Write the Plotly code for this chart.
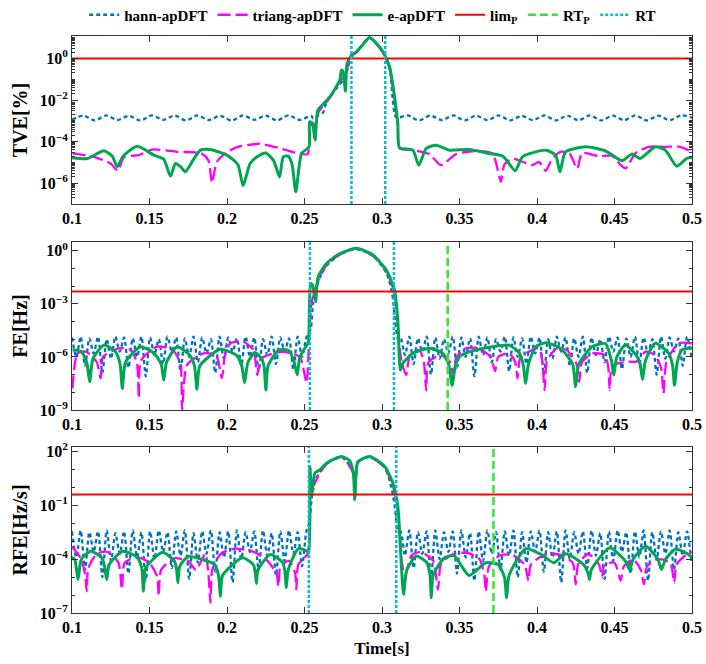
import numpy as np
import plotly.graph_objects as go
from plotly.subplots import make_subplots

# ---------------- data (log10 units) ----------------
t_start, t_end = 0.1, 0.5

# TVE panel ---------------------------------------------------------------
tve_e_t = [0.1000, 0.1100, 0.1206, 0.1260, 0.1292, 0.1330, 0.1421, 0.1528, 0.1592, 0.1635,
           0.1667, 0.1700, 0.1731, 0.1780, 0.1828, 0.1892, 0.1999, 0.2070, 0.2104, 0.2149,
           0.2200, 0.2250, 0.2300, 0.2339, 0.2363, 0.2395, 0.2420, 0.2444, 0.2481, 0.2529,
           0.2533, 0.2550, 0.2568, 0.2586, 0.2620, 0.2663, 0.2728, 0.2738, 0.2749, 0.2764,
           0.2775, 0.2803, 0.2835, 0.2880, 0.2920, 0.2960, 0.3006, 0.3049, 0.3081, 0.3102,
           0.3113, 0.3199, 0.3237, 0.3285, 0.3349, 0.3434, 0.3563, 0.3692, 0.3780, 0.3859,
           0.3906, 0.4056, 0.4120, 0.4148, 0.4184, 0.4313, 0.4442, 0.4548, 0.4613, 0.4666,
           0.4763, 0.4827, 0.4902, 0.4966, 0.5000]
tve_e_lg = [-4.77, -4.81, -4.44, -4.70, -5.21, -4.70, -4.22, -4.65, -4.85, -5.66,
            -5.05, -5.20, -5.45, -4.90, -4.41, -4.38, -4.65, -5.10, -6.12, -5.05,
            -4.70, -4.55, -4.90, -5.70, -4.73, -4.70, -5.10, -6.41, -4.57, -4.25,
            -3.05, -3.10, -3.93, -2.49, -2.20, -1.85, -1.04, -0.56, -0.64, -1.57,
            -0.24, 0.16, 0.32, 0.70, 1.01, 0.75, 0.32, -0.40, -1.85, -3.13,
            -4.30, -4.41, -5.13, -4.33, -4.17, -4.41, -4.38, -4.57, -4.70, -5.40,
            -4.73, -4.41, -4.65, -5.45, -4.49, -4.25, -4.45, -4.92, -4.60, -4.81,
            -4.25, -4.40, -5.18, -4.81, -4.75]

tve_tri_t = [0.1003, 0.1142, 0.1249, 0.1296, 0.1335, 0.1431, 0.1517, 0.1678, 0.1830, 0.1880,
             0.1903, 0.1935, 0.2000, 0.2085, 0.2150, 0.2213, 0.2331, 0.2450, 0.2520, 0.2540,
             0.2560, 0.2590, 0.2663, 0.2728, 0.2760, 0.2803, 0.2835, 0.2920, 0.3006, 0.3049,
             0.3081, 0.3102, 0.3113, 0.3200, 0.3306, 0.3381, 0.3478, 0.3600, 0.3713, 0.3767,
             0.3790, 0.3841, 0.3900, 0.3970, 0.4013, 0.4056, 0.4099, 0.4152, 0.4210, 0.4259,
             0.4291, 0.4399, 0.4480, 0.4570, 0.4634, 0.4720, 0.4827, 0.4924, 0.5000]
tve_tri_lg = [-4.57, -4.73, -5.05, -5.40, -4.75, -4.65, -4.38, -4.49, -4.55, -4.90,
              -5.98, -4.97, -4.50, -4.22, -4.15, -4.10, -4.30, -4.55, -4.60, -3.10,
              -3.30, -2.60, -1.90, -1.10, -0.80, 0.10, 0.30, 1.00, 0.30, -0.45,
              -1.90, -3.20, -4.33, -4.41, -4.60, -5.13, -4.60, -4.45, -4.57, -5.93,
              -5.10, -4.81, -4.95, -5.13, -4.97, -5.40, -4.81, -4.49, -4.57, -5.30,
              -4.55, -4.70, -4.68, -5.29, -4.57, -4.25, -4.25, -4.25, -4.50]

tve_hann_t = [0.1000, 0.1074, 0.1147, 0.1221, 0.1294, 0.1368, 0.1441, 0.1515, 0.1588, 0.1662,
              0.1735, 0.1809, 0.1882, 0.1956, 0.2029, 0.2103, 0.2176, 0.2250, 0.2323, 0.2397,
              0.2470, 0.2544,
              0.2556, 0.2586, 0.2620, 0.2642, 0.2700, 0.2760, 0.2803, 0.2835, 0.2920, 0.3006,
              0.3049, 0.3070, 0.3092,
              0.3166, 0.3239, 0.3313, 0.3386, 0.3460, 0.3533, 0.3607, 0.3680, 0.3754, 0.3827,
              0.3901, 0.3974, 0.4048, 0.4121, 0.4195, 0.4268, 0.4342, 0.4415, 0.4489, 0.4562,
              0.4636, 0.4709, 0.4783, 0.4856, 0.4930, 0.5000]
tve_hann_lg = [-2.95, -2.75, -2.98, -2.74, -2.96, -2.76, -2.99, -2.74, -2.95, -2.75,
               -2.98, -2.74, -2.96, -2.76, -2.99, -2.74, -2.95, -2.75, -2.98, -2.74,
               -2.96, -2.76,
               -2.89, -2.75, -2.60, -2.09, -1.50, -0.90, 0.05, 0.28, 0.98, 0.28,
               -0.50, -2.00, -2.84,
               -2.74, -2.98, -2.75, -2.97, -2.74, -2.98, -2.75, -2.97, -2.74, -2.98,
               -2.76, -2.97, -2.74, -2.98, -2.75, -2.97, -2.74, -2.98, -2.75, -2.97,
               -2.74, -2.98, -2.75, -2.97, -2.74, -2.85]

# FE panel ----------------------------------------------------------------
fe_e_t = [0.1003, 0.1060, 0.1095, 0.1114, 0.1135, 0.1206, 0.1280, 0.1310, 0.1325, 0.1345,
          0.1442, 0.1530, 0.1575, 0.1592, 0.1610, 0.1678, 0.1760, 0.1790, 0.1806, 0.1825,
          0.1956, 0.2060, 0.2095, 0.2113, 0.2135, 0.2180, 0.2225, 0.2240, 0.2251, 0.2265,
          0.2335, 0.2400, 0.2430, 0.2453, 0.2470, 0.2510, 0.2524, 0.2539, 0.2552, 0.2571,
          0.2588, 0.2642, 0.2728, 0.2835, 0.2942, 0.3028, 0.3081, 0.3102, 0.3118, 0.3134,
          0.3199, 0.3306, 0.3392, 0.3430, 0.3452, 0.3475, 0.3499, 0.3563, 0.3713, 0.3820,
          0.3884, 0.3910, 0.3927, 0.3945, 0.3992, 0.4056, 0.4150, 0.4230, 0.4249, 0.4270,
          0.4356, 0.4442, 0.4480, 0.4495, 0.4515, 0.4570, 0.4640, 0.4665, 0.4681, 0.4700,
          0.4763, 0.4850, 0.4875, 0.4887, 0.4905, 0.4934, 0.5000]
fe_e_lg = [-5.61, -5.70, -6.30, -7.40, -6.10, -5.33, -5.70, -6.40, -7.78, -6.30,
           -5.42, -5.80, -6.40, -7.31, -6.30, -5.42, -5.90, -6.50, -7.83, -6.50,
           -5.57, -5.90, -6.50, -7.46, -6.30, -5.75, -6.10, -6.60, -7.87, -6.50,
           -5.60, -5.65, -6.20, -7.00, -6.00, -5.40, -5.23, -1.84, -1.95, -2.88,
           -1.47, -0.71, -0.15, 0.14, -0.24, -1.09, -2.22, -3.92, -6.74, -6.36,
           -5.80, -5.51, -5.80, -6.40, -7.60, -6.40, -5.99, -5.71, -5.42, -5.33,
           -5.75, -6.40, -7.49, -6.40, -5.42, -5.20, -5.50, -6.40, -7.68, -6.40,
           -5.42, -5.25, -6.20, -7.02, -6.00, -5.33, -5.90, -6.40, -7.27, -6.20,
           -5.23, -5.80, -6.50, -7.59, -6.30, -5.61, -5.50]

fe_tri_t = [0.1003, 0.1035, 0.1090, 0.1160, 0.1185, 0.1200, 0.1303, 0.1380, 0.1420, 0.1431,
            0.1445, 0.1549, 0.1650, 0.1700, 0.1710, 0.1742, 0.1849, 0.1930, 0.1967, 0.1985,
            0.2021, 0.2106, 0.2170, 0.2196, 0.2220, 0.2300, 0.2363, 0.2470, 0.2513, 0.2530,
            0.2546, 0.2588, 0.2642, 0.2728, 0.2835, 0.2942, 0.3028, 0.3081, 0.3102, 0.3125,
            0.3156, 0.3180, 0.3242, 0.3270, 0.3285, 0.3300, 0.3380, 0.3440, 0.3460, 0.3480,
            0.3542, 0.3620, 0.3700, 0.3730, 0.3750, 0.3820, 0.3860, 0.3874, 0.3895, 0.4013,
            0.4035, 0.4049, 0.4065, 0.4130, 0.4190, 0.4255, 0.4272, 0.4290, 0.4360, 0.4440,
            0.4460, 0.4469, 0.4485, 0.4591, 0.4640, 0.4700, 0.4760, 0.4800, 0.4816, 0.4835,
            0.4912, 0.5000]
fe_tri_lg = [-7.78, -5.80, -5.70, -6.30, -7.21, -6.00, -5.51, -5.60, -6.40, -8.34,
             -6.20, -5.42, -5.60, -6.40, -9.00, -6.46, -5.80, -5.90, -7.20, -6.00,
             -5.23, -5.14, -5.60, -7.02, -6.10, -5.80, -5.71, -6.00, -7.46, -5.00,
             -2.88, -1.70, -0.80, -0.20, 0.12, -0.28, -1.15, -2.40, -4.20, -6.20,
             -7.02, -5.90, -5.61, -6.30, -7.91, -6.30, -5.90, -6.30, -7.00, -6.00,
             -5.51, -5.50, -6.00, -6.80, -6.00, -5.80, -6.30, -7.21, -6.00, -5.51,
             -6.30, -7.87, -6.20, -5.51, -5.60, -6.40, -7.40, -6.30, -5.80, -5.90,
             -6.60, -7.87, -6.50, -6.27, -6.27, -5.70, -5.90, -6.60, -8.06, -6.30,
             -5.23, -5.23]

# shared sample times of the fast hann ripple (before / after the step)
hann_t_pre = [0.1000, 0.1028, 0.1056, 0.1084, 0.1112, 0.1140, 0.1168, 0.1196, 0.1224, 0.1252,
              0.1280, 0.1308, 0.1336, 0.1364, 0.1392, 0.1420, 0.1448, 0.1476, 0.1504, 0.1532,
              0.1560, 0.1588, 0.1616, 0.1644, 0.1672, 0.1700, 0.1728, 0.1756, 0.1784, 0.1812,
              0.1840, 0.1868, 0.1896, 0.1924, 0.1952, 0.1980, 0.2008, 0.2036, 0.2064, 0.2092,
              0.2120, 0.2148, 0.2176, 0.2204, 0.2232, 0.2260, 0.2288, 0.2316, 0.2344, 0.2372,
              0.2400, 0.2428, 0.2456, 0.2484, 0.2512]
hann_t_post = [0.3120, 0.3148, 0.3176, 0.3204, 0.3232, 0.3260, 0.3288, 0.3316, 0.3344, 0.3372,
               0.3400, 0.3428, 0.3456, 0.3484, 0.3512, 0.3540, 0.3568, 0.3596, 0.3624, 0.3652,
               0.3680, 0.3708, 0.3736, 0.3764, 0.3792, 0.3820, 0.3848, 0.3876, 0.3904, 0.3932,
               0.3960, 0.3988, 0.4016, 0.4044, 0.4072, 0.4100, 0.4128, 0.4156, 0.4184, 0.4212,
               0.4240, 0.4268, 0.4296, 0.4324, 0.4352, 0.4380, 0.4408, 0.4436, 0.4464, 0.4492,
               0.4520, 0.4548, 0.4576, 0.4604, 0.4632, 0.4660, 0.4688, 0.4716, 0.4744, 0.4772,
               0.4800, 0.4828, 0.4856, 0.4884, 0.4912, 0.4940, 0.4968, 0.4996]

fe_hann_pre_lg = [-4.90, -6.0, -4.85, -6.5, -4.95, -5.8, -4.85, -6.9, -5.00, -6.1,
                  -4.85, -5.7, -4.90, -6.6, -4.95, -6.0, -4.85, -7.1, -4.90, -5.9,
                  -5.00, -6.4, -4.85, -5.7, -4.90, -6.8, -4.95, -6.0, -4.85, -6.3,
                  -4.90, -5.8, -5.00, -6.9, -4.85, -6.1, -4.90, -5.7, -4.95, -6.5,
                  -4.85, -6.0, -4.90, -6.8, -5.00, -5.9, -4.85, -6.4, -4.90, -5.7,
                  -4.95, -6.7, -4.85, -6.0, -4.90]
fe_hann_step_t = [0.2540, 0.2555, 0.2580, 0.2610, 0.2642, 0.2728, 0.2835, 0.2942, 0.3028, 0.3065,
                  0.3085, 0.3105]
fe_hann_step_lg = [-4.40, -3.00, -2.00, -1.30, -0.85, -0.22, 0.10, -0.30, -1.25, -2.40,
                   -4.00, -5.00]
fe_hann_post_lg = [-4.90, -5.9, -4.85, -6.4, -4.95, -5.7, -4.85, -7.0, -4.90, -6.1,
                   -5.00, -5.8, -4.85, -6.6, -4.90, -6.0, -4.95, -7.1, -4.85, -5.9,
                   -4.90, -6.3, -5.00, -5.7, -4.85, -6.8, -4.90, -6.0, -4.95, -6.4,
                   -4.85, -5.8, -4.90, -7.0, -5.00, -6.1, -4.85, -5.7, -4.90, -6.5,
                   -4.95, -6.0, -4.85, -6.9, -4.90, -5.9, -5.00, -6.3, -4.85, -5.7,
                   -4.90, -6.7, -4.95, -6.0, -4.85, -6.4, -4.90, -5.8, -5.00, -7.0,
                   -4.85, -6.1, -4.90, -5.7, -4.95, -6.5, -4.85, -6.0]

# RFE panel ---------------------------------------------------------------
rfe_e_t = [0.1000, 0.1018, 0.1039, 0.1060, 0.1121, 0.1190, 0.1210, 0.1224, 0.1240, 0.1327,
           0.1420, 0.1450, 0.1461, 0.1475, 0.1584, 0.1660, 0.1675, 0.1683, 0.1695, 0.1750,
           0.1842, 0.1920, 0.1945, 0.1958, 0.1972, 0.2100, 0.2170, 0.2183, 0.2190, 0.2200,
           0.2280, 0.2360, 0.2375, 0.2382, 0.2395, 0.2460, 0.2515, 0.2528, 0.2535, 0.2546,
           0.2567, 0.2599, 0.2642, 0.2738, 0.2790, 0.2815, 0.2824, 0.2833, 0.2845, 0.2920,
           0.3017, 0.3070, 0.3102, 0.3124, 0.3139, 0.3160, 0.3220, 0.3290, 0.3310, 0.3318,
           0.3330, 0.3400, 0.3464, 0.3562, 0.3670, 0.3750, 0.3790, 0.3804, 0.3820, 0.3927,
           0.4030, 0.4108, 0.4185, 0.4300, 0.4330, 0.4339, 0.4350, 0.4469, 0.4570, 0.4597,
           0.4620, 0.4700, 0.4780, 0.4803, 0.4830, 0.4893, 0.4970, 0.5000]
rfe_e_lg = [-3.90, -4.02, -5.13, -4.00, -3.56, -3.90, -4.40, -5.13, -4.30, -3.56,
            -3.90, -4.50, -5.78, -4.50, -3.61, -4.10, -4.60, -5.31, -4.40, -3.85,
            -4.02, -4.30, -4.90, -6.06, -4.90, -3.92, -4.30, -4.80, -5.35, -4.60,
            -3.74, -4.20, -4.80, -5.59, -4.60, -3.42, -3.55, -3.64, 1.17, -0.41,
            0.80, 0.98, 1.35, 1.72, 1.50, 0.80, -0.68, 0.80, 1.44, 1.72,
            1.17, 0.24, -1.06, -4.20, -5.96, -4.60, -3.83, -4.20, -4.90, -6.15,
            -4.90, -3.95, -3.80, -4.91, -4.20, -4.30, -5.00, -6.15, -4.90, -3.42,
            -3.75, -4.20, -3.70, -4.30, -4.80, -5.13, -4.60, -3.37, -4.10, -4.57,
            -4.00, -3.28, -4.00, -4.57, -4.00, -3.45, -3.70, -3.90]

rfe_tri_t = [0.1000, 0.1060, 0.1085, 0.1095, 0.1105, 0.1160, 0.1230, 0.1300, 0.1322, 0.1340,
             0.1420, 0.1500, 0.1550, 0.1559, 0.1575, 0.1660, 0.1750, 0.1800, 0.1860, 0.1880,
             0.1893, 0.1905, 0.1960, 0.2048, 0.2160, 0.2250, 0.2320, 0.2331, 0.2345, 0.2400,
             0.2440, 0.2447, 0.2460, 0.2520, 0.2540, 0.2570, 0.2599, 0.2642, 0.2738, 0.2815,
             0.2824, 0.2833, 0.2845, 0.2920, 0.3017, 0.3070, 0.3102, 0.3130, 0.3150, 0.3190,
             0.3250, 0.3330, 0.3361, 0.3380, 0.3450, 0.3550, 0.3630, 0.3660, 0.3670, 0.3690,
             0.3760, 0.3840, 0.3920, 0.3945, 0.3960, 0.4050, 0.4150, 0.4230, 0.4250, 0.4265,
             0.4330, 0.4400, 0.4420, 0.4435, 0.4500, 0.4540, 0.4560, 0.4620, 0.4670, 0.4690,
             0.4710, 0.4780, 0.4860, 0.4885, 0.4900, 0.4970, 0.5000]
rfe_tri_lg = [-3.30, -4.00, -4.90, -5.78, -4.50, -3.70, -3.60, -4.20, -5.68, -4.20,
              -3.90, -4.20, -5.00, -6.06, -4.60, -3.95, -4.10, -4.60, -3.70, -4.80,
              -6.42, -4.60, -3.70, -3.42, -3.55, -4.00, -4.80, -5.50, -4.40, -4.10,
              -4.80, -5.68, -4.30, -3.70, -0.20, 0.30, 0.80, 1.30, 1.70, 0.80,
              -0.68, 0.80, 1.40, 1.70, 1.10, 0.10, -1.30, -4.30, -4.90, -3.80,
              -3.60, -4.10, -5.70, -4.30, -3.75, -3.65, -4.00, -4.90, -5.80, -4.40,
              -3.80, -3.75, -4.30, -5.20, -4.30, -3.75, -3.75, -4.20, -5.40, -4.30,
              -3.70, -4.30, -5.00, -4.30, -4.20, -5.20, -4.40, -4.00, -4.60, -5.40,
              -4.40, -4.00, -4.20, -5.30, -4.30, -3.70, -3.60]

rfe_hann_pre_lg = [-2.45, -3.9, -2.40, -4.6, -2.50, -3.6, -2.45, -5.0, -2.40, -4.1,
                   -2.55, -3.7, -2.45, -4.8, -2.40, -3.9, -2.50, -5.2, -2.45, -4.0,
                   -2.40, -3.6, -2.50, -4.5, -2.45, -3.8, -2.40, -5.1, -2.55, -4.2,
                   -2.45, -3.7, -2.40, -4.7, -2.50, -3.9, -2.45, -5.3, -2.40, -4.0,
                   -2.50, -3.6, -2.45, -4.6, -2.40, -3.8, -2.55, -4.9, -2.45, -4.1,
                   -2.40, -3.7, -2.50, -4.4, -2.45]
rfe_hann_step_t = [0.2530, 0.2550, 0.2575, 0.2600, 0.2642, 0.2738, 0.2815, 0.2824, 0.2833, 0.2845,
                   0.2920, 0.3017, 0.3060, 0.3085, 0.3100]
rfe_hann_step_lg = [-2.00, -0.40, 0.50, 0.85, 1.30, 1.70, 0.80, -0.68, 0.80, 1.40,
                    1.70, 1.10, 0.00, -1.20, -2.40]
rfe_hann_post_lg = [-2.45, -3.8, -2.40, -4.5, -2.50, -3.7, -2.45, -5.1, -2.40, -4.0,
                    -2.50, -3.6, -2.45, -4.8, -2.40, -3.9, -2.55, -5.2, -2.45, -4.1,
                    -2.40, -3.7, -2.50, -4.6, -2.45, -3.8, -2.40, -5.0, -2.50, -4.2,
                    -2.45, -3.6, -2.40, -4.7, -2.50, -3.9, -2.45, -5.3, -2.40, -4.0,
                    -2.50, -3.7, -2.45, -4.5, -2.40, -3.8, -2.55, -5.1, -2.45, -4.1,
                    -2.40, -3.6, -2.50, -4.8, -2.45, -3.9, -2.40, -5.2, -2.50, -4.0,
                    -2.45, -3.7, -2.40, -4.6, -2.50, -3.8, -2.45, -4.2]

# limits and response-time markers
lim_tve, lim_fe, lim_rfe = 1.0, 0.005, 0.4
rt_tve = [0.2803, 0.3021]
rt_fe = [0.2535, 0.3077]
rt_rfe = [0.2528, 0.3092]
rtp_fe = 0.3424
rtp_rfe = 0.3719

# ---------------- figure ----------------
C_HANN, C_TRI, C_E = "#0072BD", "#FF00FF", "#00A651"
C_LIM, C_RTP, C_RT = "#FF0000", "#33E633", "#00BFC8"
FONT = "Liberation Serif, Times New Roman, serif"


def pw(a):
    return np.power(10.0, np.asarray(a, dtype=float))


def pair(t, v):
    n = min(len(t), len(v))
    return list(t[:n]), pw(v[:n])


fig = make_subplots(rows=3, cols=1)

panels = [
    (1, pair(tve_hann_t, tve_hann_lg), pair(tve_tri_t, tve_tri_lg), pair(tve_e_t, tve_e_lg), lim_tve),
    (2, pair(hann_t_pre + fe_hann_step_t + hann_t_post, fe_hann_pre_lg + fe_hann_step_lg + fe_hann_post_lg),
     pair(fe_tri_t, fe_tri_lg), pair(fe_e_t, fe_e_lg), lim_fe),
    (3, pair(hann_t_pre + rfe_hann_step_t + hann_t_post, rfe_hann_pre_lg + rfe_hann_step_lg + rfe_hann_post_lg),
     pair(rfe_tri_t, rfe_tri_lg), pair(rfe_e_t, rfe_e_lg), lim_rfe),
]

for row, hann, tri, e, lim in panels:
    first = row == 1
    fig.add_trace(go.Scatter(x=hann[0], y=hann[1], mode="lines", name="hann-apDFT",
                             legendgroup="hann", showlegend=first, line_shape="spline",
                             line=dict(color=C_HANN, width=2.3, dash="4px,3px", smoothing=0.8)),
                  row=row, col=1)
    fig.add_trace(go.Scatter(x=tri[0], y=tri[1], mode="lines", name="triang-apDFT",
                             legendgroup="tri", showlegend=first, line_shape="spline",
                             line=dict(color=C_TRI, width=2.3, dash="13px,5px", smoothing=0.6)),
                  row=row, col=1)
    fig.add_trace(go.Scatter(x=e[0], y=e[1], mode="lines", name="e-apDFT",
                             legendgroup="e", showlegend=first, line_shape="spline",
                             line=dict(color=C_E, width=3, smoothing=0.6)),
                  row=row, col=1)
    fig.add_trace(go.Scatter(x=[t_start, t_end], y=[lim, lim], mode="lines", name="lim<sub>P</sub>",
                             legendgroup="lim", showlegend=first,
                             line=dict(color=C_LIM, width=2)),
                  row=row, col=1)

# legend-only entries for the vertical markers
fig.add_trace(go.Scatter(x=[None], y=[None], mode="lines", name="RT<sub>P</sub>",
                         line=dict(color=C_RTP, width=2.5, dash="8px,4px")), row=1, col=1)
fig.add_trace(go.Scatter(x=[None], y=[None], mode="lines", name="RT",
                         line=dict(color=C_RT, width=2.5, dash="3px,2px")), row=1, col=1)


def vline(t, axis_n, color, dash):
    fig.add_shape(type="line", x0=t, x1=t, y0=0, y1=1,
                  xref=f"x{axis_n if axis_n > 1 else ''}",
                  yref=f"y{axis_n if axis_n > 1 else ''} domain",
                  line=dict(color=color, width=2.5, dash=dash), layer="above")


for t in rt_tve:
    vline(t, 1, C_RT, "3px,2px")
for t in rt_fe:
    vline(t, 2, C_RT, "3px,2px")
for t in rt_rfe:
    vline(t, 3, C_RT, "3px,2px")
vline(rtp_fe, 2, C_RTP, "8px,4px")
vline(rtp_rfe, 3, C_RTP, "8px,4px")

W, H = 706, 664
mt, mb, ml, mr = 36, 51, 72, 14
ph = H - mt - mb
dom = {1: [(613 - 204) / ph, 1.0], 2: [(613 - 410) / ph, (613 - 242) / ph], 3: [0.0, (613 - 447) / ph]}

tickfont = dict(family=FONT, size=16, color="black", weight="bold")
titlefont = dict(family=FONT, size=20, color="black", weight="bold")
xticks = [0.1, 0.15, 0.2, 0.25, 0.3, 0.35, 0.4, 0.45, 0.5]
xtext = ["0.1", "0.15", "0.2", "0.25", "0.3", "0.35", "0.4", "0.45", "0.5"]

yinfo = {
    1: ("TVE[%]", [-7, 1.08], [-6, -4, -2, 0], "D1"),
    2: ("FE[Hz]", [-9, 0.5], [-9, -6, -3, 0], 1),
    3: ("RFE[Hz/s]", [-7, 2.25], [-7, -4, -1, 2], 1),
}

for r in (1, 2, 3):
    title, rng, exps, mdt = yinfo[r]
    fig.update_xaxes(row=r, col=1, range=[t_start, t_end], tickvals=xticks, ticktext=xtext,
                     ticks="inside", ticklen=6, tickcolor="#333", showline=True, linecolor="#333",
                     linewidth=1, mirror="ticks", showgrid=False, zeroline=False,
                     tickfont=tickfont, domain=[0, 1])
    fig.update_yaxes(row=r, col=1, type="log", range=rng,
                     tickvals=[10.0 ** k for k in exps],
                     ticktext=[f"10<sup>{'−' if k < 0 else ''}{abs(k)}</sup>" for k in exps],
                     ticks="inside", ticklen=6, tickcolor="#333", showline=True, linecolor="#333",
                     linewidth=1, mirror="ticks", showgrid=False, zeroline=False,
                     tickfont=tickfont, domain=dom[r],
                     minor=dict(ticks="inside", ticklen=3, tickcolor="#333", dtick=mdt, showgrid=False),
                     title=dict(text=title, font=titlefont, standoff=6))

fig.update_xaxes(row=3, col=1, title=dict(text="Time[s]", font=dict(family=FONT, size=17, color="black", weight="bold"), standoff=6))

fig.update_layout(
    width=W, height=H, margin=dict(l=ml, r=mr, t=mt, b=mb, autoexpand=False),
    paper_bgcolor="white", plot_bgcolor="white",
    legend=dict(orientation="h", x=0.485, xanchor="center", y=1 + 21 / ph, yanchor="middle",
                font=dict(family=FONT, size=15, color="black", weight="bold"),
                itemwidth=30, bgcolor="rgba(0,0,0,0)", tracegroupgap=0),
    font=dict(family=FONT, color="black"),
)

fig.write_html("out.html")
